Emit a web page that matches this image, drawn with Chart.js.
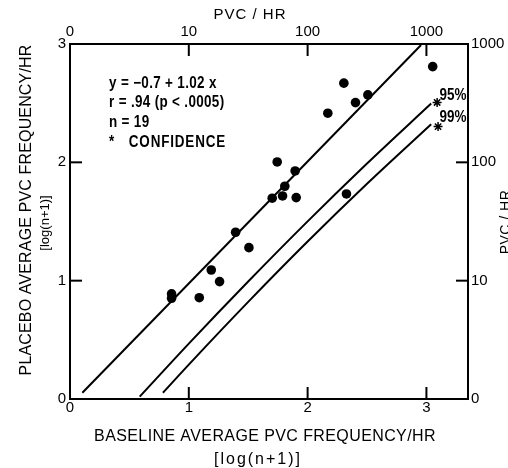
<!DOCTYPE html>
<html><head><meta charset="utf-8">
<script src="https://cdn.jsdelivr.net/npm/chart.js@4.4.0/dist/chart.umd.min.js"></script>
<style>html,body{margin:0;padding:0;background:#fff;} canvas{display:block;}</style>
</head><body>
<canvas id="c" width="508" height="468"></canvas>
<script>
// ---- data (log(n+1) units) ----
const baselineX = [0.855,0.855,1.088,1.189,1.259,1.394,1.506,1.702,1.744,1.789,1.808,1.895,1.904,2.170,2.305,2.327,2.403,2.507,3.053];
const placeboY  = [0.888,0.851,0.856,1.090,0.992,1.409,1.279,1.697,2.003,1.716,1.798,1.927,1.702,2.415,2.669,1.733,2.505,2.570,2.809];
const regressionX = [0.104, 2.955];
const regressionY = [0.053, 2.992];
const conf95X = [0.587, 1.0, 1.5, 2.0, 2.5, 3.04];
const conf95Y = [0.020, 0.468, 0.993, 1.501, 1.990, 2.497];
const conf99X = [0.782, 1.0, 1.5, 2.0, 2.5, 3.04];
const conf99Y = [0.053, 0.291, 0.821, 1.331, 1.819, 2.322];
const starX = [3.09, 3.098];
const starY = [2.506, 2.302];
const starLabels = ['95%', '99%'];
const logTicks = [0, 1, 2, 3];
const logTickLabels = ['0', '1', '2', '3'];
const pvcTickLabels = ['0', '10', '100', '1000'];
const innerTickValues = [1, 2, 3];
const annotationLines = ['y = \u22120.7 + 1.02 x', 'r = .94 (p < .0005)', 'n = 19', '*   CONFIDENCE'];
const xTitle = 'BASELINE AVERAGE PVC FREQUENCY/HR';
const yTitle = 'PLACEBO AVERAGE PVC FREQUENCY/HR';
const unitTitle = '[log(n+1)]';
const pvcTitle = 'PVC / HR';

const FONT = '"Liberation Sans", Arial, Helvetica, sans-serif';
const pts = (xs, ys) => xs.map((x, i) => ({x: x, y: ys[i]}));

function txt(ctx, s, x, y, font, ls, align, rot, baseline, sx) {
  ctx.save();
  ctx.font = font;
  ctx.letterSpacing = ls + 'px';
  ctx.textAlign = align;
  ctx.textBaseline = baseline || 'middle';
  ctx.translate(x, y);
  if (rot) ctx.rotate(rot);
  if (sx) ctx.scale(sx, 1);
  ctx.fillText(s, 0, 0);
  ctx.restore();
}

const decor = {
  id: 'decor',
  afterDraw(chart) {
    const {ctx, chartArea: ca, scales} = chart;
    ctx.save();
    ctx.strokeStyle = '#000';
    ctx.lineWidth = 2;
    ctx.fillStyle = '#000';
    const L = 12;
    const line = (a, b, c, d) => { ctx.beginPath(); ctx.moveTo(a, b); ctx.lineTo(c, d); ctx.stroke(); };
    innerTickValues.forEach(v => {
      const px = scales.x.getPixelForValue(v);
      line(px, ca.bottom, px, ca.bottom - L);
      const pt = scales.x2.getPixelForValue(v);
      line(pt, ca.top, pt, ca.top + L);
      if (v < 3) {
        const py = scales.y.getPixelForValue(v);
        line(ca.left, py, ca.left + L, py);
        const pr = scales.y2.getPixelForValue(v);
        line(ca.right, pr, ca.right - L, pr);
      }
    });
    // axis titles
    txt(ctx, pvcTitle, 250, 15, '15px ' + FONT, 1, 'center');
    txt(ctx, xTitle, 265, 437, '16px ' + FONT, 0.4, 'center');
    txt(ctx, unitTitle, 258, 460, '16px ' + FONT, 2, 'center');
    txt(ctx, yTitle, 27, 210, '16px ' + FONT, 0.15, 'center', -Math.PI / 2);
    txt(ctx, unitTitle, 45, 223, '13px ' + FONT, 0, 'center', -Math.PI / 2);
    txt(ctx, pvcTitle, 499, 222, '14px ' + FONT, 0.5, 'center', -Math.PI / 2, 'top');
    // annotation block
    const ys = [84, 102.5, 122.5, 142.5];
    annotationLines.forEach((s, i) => {
      txt(ctx, s, ca.left + 39, ys[i], 'bold 16px ' + FONT, i === 3 ? 1.0 : 0.4, 'left', 0, 'middle', 0.84);
    });
    // confidence labels next to stars
    const offs = [[2.5, -6.5], [1.5, -9]];
    starLabels.forEach((s, i) => {
      const sx = scales.x.getPixelForValue(starX[i]);
      const sy = scales.y.getPixelForValue(starY[i]);
      txt(ctx, s, sx + offs[i][0], sy + offs[i][1], 'bold 16px ' + FONT, 0, 'left', 0, 'middle', 0.84);
    });
    ctx.restore();
  }
};

const tickFont = {family: FONT, size: 15};
const common = {
  type: 'linear',
  grid: {display: false, drawTicks: false},
  border: {display: true, color: '#000', width: 2}
};

new Chart(document.getElementById('c'), {
  type: 'scatter',
  data: {
    datasets: [
      {label: 'patients', data: pts(baselineX, placeboY), pointRadius: 4.8, pointBackgroundColor: '#000', pointBorderWidth: 0, showLine: false},
      {label: 'regression', data: pts(regressionX, regressionY), showLine: true, borderColor: '#000', borderWidth: 2, pointRadius: 0},
      {label: '95%', data: pts(conf95X, conf95Y), showLine: true, borderColor: '#000', borderWidth: 2, pointRadius: 0, cubicInterpolationMode: 'monotone'},
      {label: '99%', data: pts(conf99X, conf99Y), showLine: true, borderColor: '#000', borderWidth: 2, pointRadius: 0, cubicInterpolationMode: 'monotone'},
      {label: 'stars', data: pts(starX, starY), pointStyle: 'star', pointRadius: 4.5, pointBorderColor: '#000', pointBorderWidth: 1.5, showLine: false}
    ]
  },
  options: {
    responsive: false,
    animation: false,
    devicePixelRatio: 1,
    layout: {padding: 0},
    plugins: {legend: {display: false}, tooltip: {enabled: false}},
    scales: {
      x: Object.assign({}, common, {
        position: 'bottom', min: 0, max: 3.35,
        afterBuildTicks: s => { s.ticks = logTicks.map(v => ({value: v})); },
        afterFit: s => { s.height = 69; },
        ticks: {padding: 0, color: '#000', font: tickFont, maxRotation: 0, autoSkip: false,
                callback: v => logTickLabels[logTicks.indexOf(v)]}
      }),
      x2: Object.assign({}, common, {
        position: 'top', min: 0, max: 3.35,
        afterBuildTicks: s => { s.ticks = logTicks.map(v => ({value: v})); },
        afterFit: s => { s.height = 44; },
        ticks: {padding: 3, color: '#000', font: tickFont, maxRotation: 0, autoSkip: false,
                callback: v => pvcTickLabels[logTicks.indexOf(v)]}
      }),
      y: Object.assign({}, common, {
        position: 'left', min: 0, max: 3,
        afterBuildTicks: s => { s.ticks = logTicks.map(v => ({value: v})); },
        afterFit: s => { s.width = 70; },
        ticks: {padding: 4, color: '#000', font: tickFont, autoSkip: false,
                callback: v => logTickLabels[logTicks.indexOf(v)]}
      }),
      y2: Object.assign({}, common, {
        position: 'right', min: 0, max: 3,
        afterBuildTicks: s => { s.ticks = logTicks.map(v => ({value: v})); },
        afterFit: s => { s.width = 40; },
        ticks: {padding: 3, color: '#000', font: tickFont, autoSkip: false,
                callback: v => pvcTickLabels[logTicks.indexOf(v)]}
      })
    }
  },
  plugins: [decor]
});
</script>
</body></html>
